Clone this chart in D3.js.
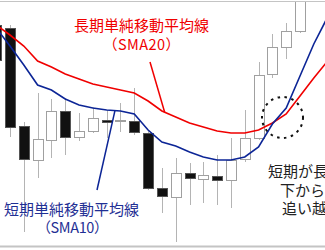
<!DOCTYPE html>
<html>
<head>
<meta charset="utf-8">
<script src="https://cdn.jsdelivr.net/npm/d3@7"></script>
<style>
  body { margin: 0; background: #fff; }
  text { font-family: "Noto Sans CJK JP", sans-serif; }
</style>
</head>
<body>
<div id="chart"></div>
<script>
// candles (index 0 is cut off at the left edge)
const opens  = [225, 222, 124,  90, 110, 139, 113, 119, 130, 129, 129, 117,  62,  53,  77,  71,  74,  70,  91, 112, 176, 203, 219];
const highs  = [228, 225, 128, 157, 151, 152, 137, 143, 140, 147, 162, 119,  82,  92,  87,  88,  95, 112, 140, 188, 216, 227, 270];
const lows   = [185, 113,  18,  72,  92,  95, 109, 117, 112, 118, 115,  60,  37,   8,  45,  47,  45,  42,  88, 110, 172, 191, 217];
const closes = [190, 123,  91, 111, 139, 113, 119, 132, 128, 130, 118,  62,  54,  77,  72,  75,  70,  90, 112, 175, 203, 219, 260];

// moving averages read at each candle position
const sma20 = [225, 215, 204, 189, 183, 176, 171, 166, 163, 160, 157, 149, 139, 133, 127, 123, 119, 117, 117, 120, 127, 136, 154, 172, 189];
const sma10 = [222, 204, 185, 165, 160, 151, 145, 142, 140, 139, 136, 120, 108, 104,  98,  93,  90,  90,  93, 103, 126, 142, 174, 206, 233];

const longLabel = ["長期単純移動平均線", "（SMA20）"];
const shortLabel = ["短期単純移動平均線", "（SMA10）"];
const noteLabel = ["短期が長期を", "下から上に", "追い越す"];

const width = 325, height = 250;

const svg = d3.select("#chart").append("svg")
    .attr("width", width)
    .attr("height", height);

const x = d3.scaleLinear().domain([1, 22]).range([10, 300]);
const y = d3.scaleLinear().domain([0, 250]).range([250, 0]);

svg.append("clipPath").attr("id", "plot")
    .append("rect").attr("x", 0).attr("y", 2).attr("width", width).attr("height", 244);

const plot = svg.append("g").attr("clip-path", "url(#plot)");

const candles = opens.map((o, i) => ({i: i, o: o, h: highs[i], l: lows[i], c: closes[i]}));
const px = d => Math.round(x(d.i)) + 0.5;

// wicks
plot.selectAll(".wick")
    .data(candles)
    .enter()
    .append("line")
    .attr("class", "wick")
    .attr("x1", px).attr("x2", px)
    .attr("y1", d => y(d.h))
    .attr("y2", d => y(d.l))
    .attr("stroke", "#b4b4b4")
    .attr("stroke-width", 1);

// bodies
plot.selectAll(".body")
    .data(candles)
    .enter()
    .append("rect")
    .attr("class", "body")
    .attr("x", d => px(d) - 5)
    .attr("width", 10)
    .attr("y", d => Math.round(y(Math.max(d.o, d.c))) + 0.5)
    .attr("height", d => Math.max(1, Math.abs(y(d.o) - y(d.c))))
    .attr("fill", d => d.c >= d.o ? "#fff" : "#111")
    .attr("stroke", d => d.c >= d.o ? "#a0a0a0" : "#555")
    .attr("stroke-width", 1);

// moving average lines
const line = d3.line()
    .x((d, i) => x(i))
    .y(d => y(d));

plot.append("path")
    .datum(sma20)
    .attr("fill", "none")
    .attr("stroke", "#f00000")
    .attr("stroke-width", 1.6)
    .attr("d", line);

plot.append("path")
    .datum(sma10)
    .attr("fill", "none")
    .attr("stroke", "#0c2596")
    .attr("stroke-width", 1.6)
    .attr("d", line);

// crossover marker
svg.append("circle")
    .attr("cx", 282.5)
    .attr("cy", 117.5)
    .attr("r", 20.5)
    .attr("fill", "none")
    .attr("stroke", "#111")
    .attr("stroke-width", 2)
    .attr("stroke-dasharray", "2.5,4.5");

// frame lines
svg.append("line")
    .attr("x1", 0).attr("x2", width)
    .attr("y1", 1.5).attr("y2", 1.5)
    .attr("stroke", "#c4c4c4");
svg.append("line")
    .attr("x1", 0).attr("x2", width)
    .attr("y1", 246.5).attr("y2", 246.5)
    .attr("stroke", "#c4c4c4")
    .attr("stroke-width", 2);

// pointer lines, ending on the averages
function along(arr, t) {
    let i = Math.floor(t), f = t - i;
    return [x(t), y(arr[i] + (arr[i + 1] - arr[i]) * f)];
}
let redEnd = along(sma20, 12.2);
svg.append("line")
    .attr("x1", 150).attr("y1", 62)
    .attr("x2", redEnd[0]).attr("y2", redEnd[1])
    .attr("stroke", "#f00000")
    .attr("stroke-width", 1.5);

let blueEnd = along(sma10, 8.6);
svg.append("line")
    .attr("x1", 97).attr("y1", 190)
    .attr("x2", blueEnd[0]).attr("y2", blueEnd[1])
    .attr("stroke", "#0c2596")
    .attr("stroke-width", 1.5);

// labels
svg.append("text")
    .attr("x", 141.5).attr("y", 31)
    .attr("text-anchor", "middle")
    .style("font-size", "15px")
    .style("fill", "#f00000")
    .text(longLabel[0]);
svg.append("text")
    .attr("x", 141.5).attr("y", 50)
    .attr("text-anchor", "middle")
    .attr("textLength", 77)
    .attr("lengthAdjust", "spacing")
    .style("font-size", "14.5px")
    .style("fill", "#f00000")
    .text(longLabel[1]);

svg.append("text")
    .attr("x", 71.5).attr("y", 215)
    .attr("text-anchor", "middle")
    .style("font-size", "15px")
    .style("fill", "#1f2f94")
    .text(shortLabel[0]);
svg.append("text")
    .attr("x", 72.5).attr("y", 233)
    .attr("text-anchor", "middle")
    .attr("textLength", 72)
    .attr("lengthAdjust", "spacing")
    .style("font-size", "14.5px")
    .style("fill", "#1f2f94")
    .text(shortLabel[1]);

const noteX = [268, 280, 282];
svg.selectAll(".note")
    .data(noteLabel)
    .enter()
    .append("text")
    .attr("class", "note")
    .attr("x", (d, i) => noteX[i])
    .attr("y", (d, i) => 177 + i * 18.5)
    .style("font-size", "15px")
    .style("fill", "#222")
    .text(d => d);
</script>
</body>
</html>
